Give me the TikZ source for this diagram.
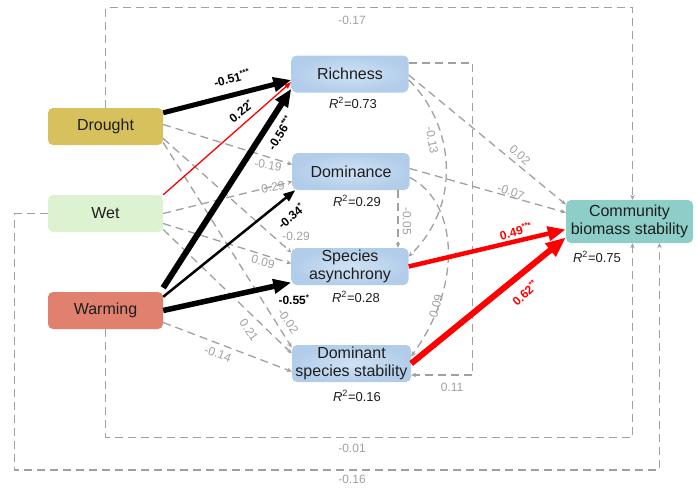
\documentclass[tikz,border=0pt]{standalone}
\usepackage{fontspec}
\setmainfont{Liberation Sans}
\usetikzlibrary{arrows.meta}
\definecolor{droughtcol}{RGB}{214,193,92}
\definecolor{wetcol}{RGB}{221,242,208}
\definecolor{warmcol}{RGB}{224,128,110}
\definecolor{medin}{RGB}{208,226,244}
\definecolor{medout}{RGB}{178,205,234}
\definecolor{commcol}{RGB}{141,206,200}
\definecolor{nsgray}{RGB}{160,160,160}
\definecolor{boxtext}{RGB}{30,30,30}

\begin{document}
\begin{tikzpicture}[x=1pt,y=-1pt,
  box/.style={rounded corners=5pt, minimum width=115pt, minimum height=37pt, inner sep=1pt, align=center, text=boxtext, font=\fontsize{16}{18}\selectfont},
  medbox/.style={box, inner color=medin, outer color=medout, minimum width=117pt},
  rsq/.style={font=\fontsize{13}{15}\selectfont, text=boxtext, inner sep=1pt},
  nsarrow/.style={draw=nsgray, line width=1.3pt, dash pattern=on 8pt off 5pt, -{Stealth[length=5pt,width=4.5pt]}},
  bigtip/.style={-{Triangle[length=18pt,width=14pt]}},
  midtip/.style={-{Triangle[length=12pt,width=9pt]}},
  nscoef/.style={text=nsgray, font=\fontsize{12}{14}\selectfont, inner sep=1pt},
  sigcoef/.style={font=\bfseries\fontsize{12}{14}\selectfont, inner sep=1pt}]
\useasboundingbox (0,0) rectangle (697,488);

\node[box, fill=droughtcol] (drought) at (105.5,126.5) {Drought};
\node[box, fill=wetcol] (wet) at (105.5,213.5) {Wet};
\node[box, fill=warmcol] (warm) at (105.5,310.5) {Warming};
\node[medbox] (rich) at (350,74) {Richness};
\node[medbox] (dom) at (351,171.5) {Dominance};
\node[medbox] (asyn) at (350,266.5) {Species\\asynchrony};
\node[medbox, minimum width=119pt] (dstab) at (351.5,363.5) {Dominant\\species stability};
\node[box, fill=commcol, minimum width=127pt, minimum height=43pt] (comm) at (629.5,221.5) {Community\\biomass stability};

\node[rsq] (r2rich) at (353,103) {\textit{R}\textsuperscript{2}=0.73};
\node[rsq] (r2dom) at (357,201) {\textit{R}\textsuperscript{2}=0.29};
\node[rsq] (r2asyn) at (356,297) {\textit{R}\textsuperscript{2}=0.28};
\node[rsq] (r2dstab) at (357,396) {\textit{R}\textsuperscript{2}=0.16};
\node[rsq] (r2comm) at (597,257) {\textit{R}\textsuperscript{2}=0.75};

% loops round the picture
\draw[nsarrow] (drought.north) -- ++(0,-100) -| ([xshift=3pt]comm.north);
\draw[nsarrow] (warm.south) -- ++(0,108) -| ([xshift=3pt]comm.south);
\draw[nsarrow] (wet.west) -- ++(-33,0) -- ++(0,256.5) -| ([xshift=30pt]comm.south);
\draw[nsarrow] ([yshift=11pt]rich.east) -- ++(64,0) |- ([yshift=-11.5pt]dstab.east);
\node[nscoef] (cdc) at (352,20) {-0.17};
\node[nscoef] (cwc) at (352,448) {-0.01};
\node[nscoef] (cwetc) at (352,479) {-0.16};
\node[nscoef] (crd) at (452,387) {0.11};

% drivers to mediators, not significant
\draw[nsarrow] ([yshift=2pt]drought.east) -- ([yshift=7pt]dom.west);
\draw[nsarrow] ([yshift=-12pt]drought.east) -- ([yshift=14pt]asyn.west);
\draw[nsarrow] ([yshift=-16pt]drought.east) -- ([yshift=16pt]dstab.west);
\draw[nsarrow] (wet.east) -- ([yshift=-10pt]dom.west);
\draw[nsarrow] ([yshift=-10pt]wet.east) -- ([yshift=3pt]asyn.west);
\draw[nsarrow] ([yshift=-16pt]wet.east) -- ([yshift=10pt]dstab.west);
\draw[nsarrow] ([yshift=-12pt]warm.east) -- ([yshift=-8pt]dstab.west);
\node[nscoef, rotate=-8] (cdd) at (268,165) {-0.19};
\node[nscoef, rotate=10] (cwd) at (273,187) {0.29};
\node[nscoef] (cda) at (296,236) {-0.29};
\node[nscoef, rotate=-15] (cwa) at (263,262) {0.09};
\node[nscoef, rotate=-55] (cds) at (288,321) {-0.02};
\node[nscoef, rotate=-55] (cws) at (249,330) {0.21};
\node[nscoef, rotate=-20] (cms) at (218,354) {-0.14};

% mediators
\draw[nsarrow] ([yshift=-1pt]rich.east) -- ([yshift=17pt]comm.west);
\draw[nsarrow] ([yshift=3pt]dom.east) -- ([yshift=9pt]comm.west);
\draw[nsarrow] ([yshift=-6pt]rich.east) .. controls (455,125) and (462,205) .. ([yshift=10pt]asyn.east);
\draw[nsarrow] ([yshift=-6pt]dom.east) .. controls (455,200) and (466,280) .. ([yshift=7pt]dstab.east);
\draw[nsarrow] ([xshift=47pt]dom.south) -- ([xshift=48pt]asyn.north);
\node[nscoef, rotate=-42] (crc) at (520,155) {0.02};
\node[nscoef, rotate=-20] (cdomc) at (511,192) {-0.07};
\node[nscoef, rotate=-80] (cra) at (432,140) {-0.13};
\node[nscoef, rotate=75] (cdoms) at (436,306) {0.09};
\node[nscoef, rotate=-90] (cdoma) at (407,221) {-0.05};

% significant paths
\draw[bigtip, line width=5pt] ([yshift=-5pt]drought.north east) -- ([yshift=-6pt]rich.west);
\draw[red, line width=1.3pt, -{Triangle[length=7pt,width=5pt]}] (wet.north east) -- ([yshift=-8pt]rich.west);
\draw[bigtip, line width=6pt] ([yshift=4pt]warm.north east) -- ([yshift=4pt]rich.south west);
\draw[midtip, line width=2.5pt] ([yshift=-5pt]warm.north east) -- ([xshift=3pt]dom.south west);
\draw[bigtip, line width=5.5pt] (warm.east) -- ([yshift=-16pt]asyn.west);
\draw[red, bigtip, line width=4.5pt] (asyn.east) -- ([yshift=-8pt]comm.west);
\draw[red, line width=6pt, -{Triangle[length=20pt,width=16pt]}] (dstab.east) -- ([yshift=-16pt]comm.west);
\node[sigcoef, rotate=15] (cdr) at (232,78) {-0.51\textsuperscript{***}};
\node[sigcoef, rotate=38] (cwr) at (241,111) {0.22\textsuperscript{*}};
\node[sigcoef, rotate=58] (cmr) at (280,133) {-0.56\textsuperscript{***}};
\node[sigcoef, rotate=40] (cmd) at (291,216) {-0.34\textsuperscript{*}};
\node[sigcoef] (cma) at (294,300) {-0.55\textsuperscript{*}};
\node[sigcoef, text=red, rotate=15] (cac) at (516,231) {0.49\textsuperscript{***}};
\node[sigcoef, text=red, rotate=42] (csc) at (525,293) {0.62\textsuperscript{**}};
\end{tikzpicture}
\end{document}
